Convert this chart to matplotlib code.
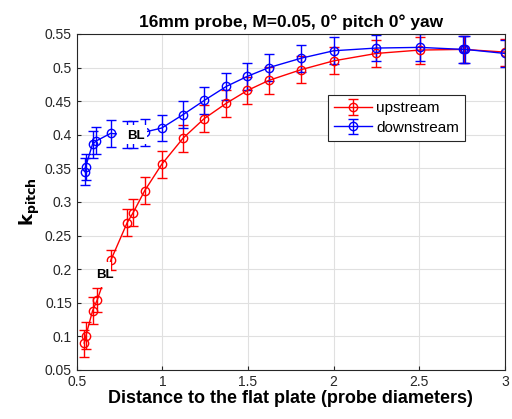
import matplotlib
matplotlib.use('Agg')
import matplotlib.pyplot as plt
from matplotlib.patches import Rectangle
import numpy as np

plt.rcParams['font.family'] = ['Liberation Sans', 'DejaVu Sans']

# upstream (red)
x_up = [0.543, 0.553, 0.592, 0.619, 0.70, 0.794, 0.829, 0.897, 0.996, 1.121, 1.244,
        1.374, 1.497, 1.623, 1.812, 2.001, 2.25, 2.503, 2.76, 3.0]
k_up = [0.090, 0.101, 0.138, 0.154, 0.214, 0.269, 0.284, 0.317, 0.356, 0.395, 0.424,
        0.447, 0.466, 0.481, 0.497, 0.510, 0.521, 0.526, 0.527, 0.523]
err_up = [0.02, 0.02, 0.02, 0.018, 0.015, 0.02, 0.02, 0.02, 0.02, 0.02, 0.02,
          0.02, 0.02, 0.02, 0.02, 0.02, 0.02, 0.02, 0.02, 0.02]

# downstream (blue)
x_dn = [0.547, 0.551, 0.592, 0.615, 0.697, 0.794, 0.829, 0.897, 0.996, 1.121, 1.244,
        1.374, 1.497, 1.623, 1.812, 2.001, 2.25, 2.503, 2.757, 2.77, 3.0]
k_dn = [0.345, 0.352, 0.386, 0.391, 0.402, 0.400, 0.401, 0.404, 0.410, 0.430, 0.451,
        0.472, 0.487, 0.500, 0.514, 0.525, 0.529, 0.530, 0.527, 0.527, 0.521]
err_dn = [0.02] * len(x_dn)

fig = plt.figure(figsize=(5.12, 4.19), dpi=100)
ax = fig.add_axes([0.150, 0.117, 0.836, 0.802])

ax.errorbar(x_up, k_up, yerr=err_up, color=(1, 0, 0), marker='o', mfc='none',
            ms=6, lw=1, capsize=3.5, elinewidth=1, label='upstream')
ax.errorbar(x_dn, k_dn, yerr=err_dn, color=(0, 0, 1), marker='o', mfc='none',
            ms=6, lw=1, capsize=3.5, elinewidth=1, label='downstream')

# white label boxes covering the boundary-layer points
ax.add_patch(Rectangle((0.735, 0.386), 0.175, 0.028, facecolor='white',
                       edgecolor='none', zorder=9))
ax.add_patch(Rectangle((0.625, 0.174), 0.075, 0.036, facecolor='white',
                       edgecolor='none', zorder=9))
ax.text(0.845, 0.398, 'BL', fontsize=9.5, fontweight='bold', ha='center', va='center',
        zorder=10)
ax.text(0.664, 0.191, 'BL', fontsize=9.5, fontweight='bold', ha='center', va='center',
        zorder=10)

ax.set_xlim(0.5, 3)
ax.set_ylim(0.05, 0.55)
ax.set_xticks([0.5, 1, 1.5, 2, 2.5, 3])
ax.set_xticklabels(['0.5', '1', '1.5', '2', '2.5', '3'])
ax.set_yticks(np.arange(0.05, 0.551, 0.05))
ax.set_yticklabels(['0.05', '0.1', '0.15', '0.2', '0.25', '0.3', '0.35', '0.4',
                    '0.45', '0.5', '0.55'])
ax.grid(True, color='#e0e0e0', lw=0.8)
ax.set_axisbelow(True)
ax.tick_params(direction='in', labelsize=10, colors='#262626', length=3)
for s in ax.spines.values():
    s.set_color('#262626')
    s.set_linewidth(0.8)

ax.set_title('16mm probe, M=0.05, 0° pitch 0° yaw', fontsize=12.5,
             fontweight='bold', pad=5)
ax.set_xlabel('Distance to the flat plate (probe diameters)', fontsize=13,
              fontweight='bold', labelpad=1)
ax.set_ylabel(r'$\mathbf{k_{pitch}}$', fontsize=13, labelpad=2)

leg = ax.legend(loc='upper right', bbox_to_anchor=(0.908, 0.818), fontsize=11,
                fancybox=False, edgecolor='#262626', framealpha=1,
                handlelength=2.5, handletextpad=0.3, borderpad=0.4,
                labelspacing=0.35, borderaxespad=0)
leg.get_frame().set_linewidth(0.8)

fig.savefig('out.png', dpi=100)
